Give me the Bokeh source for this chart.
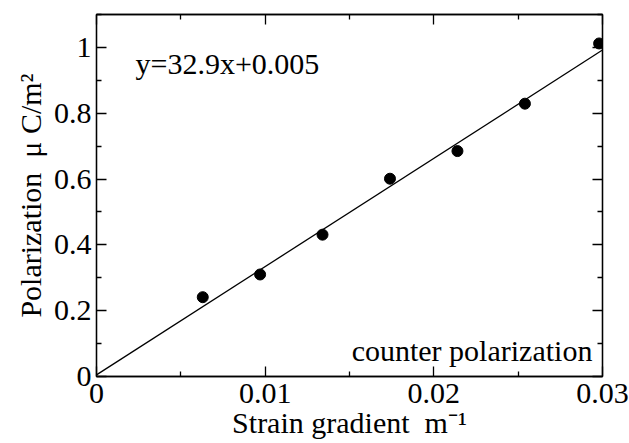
from bokeh.plotting import figure
from bokeh.models import LinearAxis, FixedTicker, Label, CustomJSTickFormatter, Range1d, ColumnDataSource
from bokeh.embed import file_html
from bokeh.resources import INLINE

# ---- data ----
strain = [0.0063, 0.0097, 0.0134, 0.0174, 0.0214, 0.0254, 0.0298]
polarization = [0.241, 0.310, 0.431, 0.601, 0.685, 0.829, 1.012]
fit_slope = 32.9
fit_intercept = 0.005
fit_x = [0.0, 0.03]
x_ticks = [0, 0.01, 0.02, 0.03]
x_minor = [0.005, 0.015, 0.025]
y_ticks = [0, 0.2, 0.4, 0.6, 0.8, 1.0]
y_minor = [0.1, 0.3, 0.5, 0.7, 0.9, 1.1]
equation_text = "y=32.9x+0.005"
note_text = "counter polarization"
x_title = "Strain gradient\u00a0\u00a0m\u207b\u00b9"
y_title = "Polarization\u00a0\u00a0\u03bc\u00a0C/m\u00b2"

FONT = "Times"
FS = "30px"

p = figure(width=629, height=443, x_range=Range1d(0, 0.03), y_range=Range1d(0, 1.1),
           output_backend="svg", toolbar_location=None,
           min_border_left=96, min_border_right=27, min_border_top=14, min_border_bottom=67,
           x_axis_location=None, y_axis_location=None)
p.grid.visible = False
p.outline_line_color = "black"
p.outline_line_width = 1.3
p.background_fill_color = "white"
p.border_fill_color = "white"

fmt = CustomJSTickFormatter(code="return String(Number(tick.toFixed(4)));")
blank = CustomJSTickFormatter(code="return '';")


def style(ax, show):
    ax.major_tick_in = 10
    ax.major_tick_out = 0
    ax.minor_tick_in = 5
    ax.minor_tick_out = 0
    for a in ("axis_line", "major_tick_line", "minor_tick_line"):
        setattr(ax, a + "_color", "black")
        setattr(ax, a + "_width", 1.3)
    if show:
        ax.formatter = fmt
        ax.major_label_text_font = FONT
        ax.major_label_text_font_size = FS
        ax.major_label_text_font_style = "normal"
        ax.major_label_text_color = "black"
        ax.axis_label_text_font = FONT
        ax.axis_label_text_font_size = FS
        ax.axis_label_text_font_style = "normal"
        ax.axis_label_text_color = "black"
    else:
        ax.formatter = blank
        ax.major_label_text_font_size = "0px"
        ax.major_label_standoff = 0


xb = LinearAxis(ticker=FixedTicker(ticks=x_ticks, minor_ticks=x_minor), axis_label=x_title)
style(xb, True)
xb.major_label_standoff = 7
xb.axis_label_standoff = 0
p.add_layout(xb, "below")

yl = LinearAxis(ticker=FixedTicker(ticks=y_ticks, minor_ticks=y_minor), axis_label=y_title)
style(yl, True)
yl.major_label_standoff = 5
yl.axis_label_standoff = 4
p.add_layout(yl, "left")

xt = LinearAxis(ticker=FixedTicker(ticks=x_ticks, minor_ticks=x_minor))
style(xt, False)
p.add_layout(xt, "above")

yr = LinearAxis(ticker=FixedTicker(ticks=y_ticks, minor_ticks=y_minor))
style(yr, False)
p.add_layout(yr, "right")

fit_y = [fit_slope * x + fit_intercept for x in fit_x]
p.line(fit_x, fit_y, line_color="black", line_width=1.3)

src = ColumnDataSource(dict(x=strain, y=polarization))
p.scatter("x", "y", source=src, size=11, fill_color="black", line_color="black")

p.add_layout(Label(x=0.00231, y=0.951, text=equation_text, text_font=FONT,
                   text_font_size=FS, text_color="black", text_baseline="alphabetic"))
p.add_layout(Label(x=0.0294, y=0.079, text=note_text, text_font=FONT,
                   text_font_size=FS, text_color="black", text_baseline="alphabetic",
                   text_align="right"))

open("out.html", "w").write(file_html(p, INLINE))
